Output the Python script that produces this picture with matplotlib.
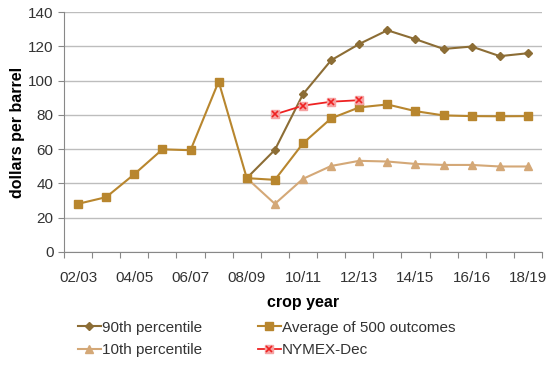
import matplotlib

matplotlib.use("Agg")
import matplotlib.pyplot as plt
from matplotlib.legend_handler import HandlerTuple
import numpy as np

years = ["02/03", "03/04", "04/05", "05/06", "06/07", "07/08", "08/09", "09/10", "10/11",
         "11/12", "12/13", "13/14", "14/15", "15/16", "16/16", "17/18", "18/19"]
avg = [28.1, 32.0, 45.4, 59.9, 59.4, 99.5, 43.1, 42.1, 63.4, 78.0, 84.4, 86.1, 82.2, 79.7, 79.3, 79.2, 79.3]
p90 = [None] * 6 + [43.1, 59.6, 92.1, 111.9, 121.4, 129.4, 124.2, 118.5, 119.9, 114.3, 116.0]
p10 = [None] * 6 + [43.1, 28.1, 42.7, 50.2, 53.2, 52.8, 51.4, 50.8, 50.8, 49.9, 49.9]
nymex = [None] * 7 + [80.3, 85.4, 87.7, 88.6] + [None] * 6

INK = "#333333"
plt.rcParams.update({"font.family": "Liberation Sans", "font.size": 11, "text.color": INK,
                     "xtick.color": INK, "ytick.color": INK})


def arr(v):
    return np.array([np.nan if x is None else x for x in v], dtype=float)


x = np.arange(len(years))
fig = plt.figure(figsize=(5.59, 3.67), dpi=100)
ax = fig.add_axes([0.1145, 0.3134, 0.8551, 0.6536])

l1, = ax.plot(x, arr(p90), color="#8c6d35", lw=1.5, marker="D", ms=4, label="90th percentile", zorder=4)
l3, = ax.plot(x, arr(p10), color="#d4a877", lw=1.5, marker="^", ms=5.5, label="10th percentile", zorder=3)
l2, = ax.plot(x, arr(avg), color="#b8862e", lw=1.5, marker="s", ms=6, label="Average of 500 outcomes", zorder=5)
l4, = ax.plot(x, arr(nymex), color="#ee2222", lw=1.3, marker="s", ms=6, mfc="#f5a3a3", mec="#f5a3a3",
              label="NYMEX-Dec", zorder=6)
l4x, = ax.plot(x, arr(nymex), ls="none", marker="x", ms=4, mew=1.2, color="#ee2222", zorder=7)

ax.set_ylim(0, 140)
ax.set_xlim(-0.5, len(years) - 0.5)
ax.set_yticks(range(0, 141, 20))
ax.yaxis.grid(True, color="#bdbdbd", lw=1)
ax.set_axisbelow(True)
ax.set_xticks(np.arange(-0.5, len(years), 1))
ax.set_xticklabels([])
ax.set_xticks(x[::2], minor=True)
ax.set_xticklabels(years[::2], minor=True, fontsize=11)
ax.tick_params(axis="x", which="major", length=4, color="#888888")
ax.tick_params(axis="x", which="minor", length=0, pad=14)
ax.tick_params(axis="y", length=4, color="#888888", labelsize=11)
for s in ("top", "right"):
    ax.spines[s].set_visible(False)
for s in ("left", "bottom"):
    ax.spines[s].set_color("#888888")

ax.set_ylabel("dollars per barrel", fontweight="bold", fontsize=11.5, labelpad=2)
ax.set_xlabel("crop year", fontweight="bold", fontsize=11.5, labelpad=7)

fig.legend(handles=[l1, l3, l2, (l4, l4x)],
           labels=["90th percentile", "10th percentile", "Average of 500 outcomes", "NYMEX-Dec"],
           handler_map={tuple: HandlerTuple(ndivide=1)},
           ncol=2, frameon=False, loc="lower left",
           bbox_to_anchor=(0.115, -0.01), fontsize=11, handlelength=1.5, handletextpad=0.1,
           columnspacing=3.6, labelspacing=0.55)

fig.savefig("out.png", dpi=100)
